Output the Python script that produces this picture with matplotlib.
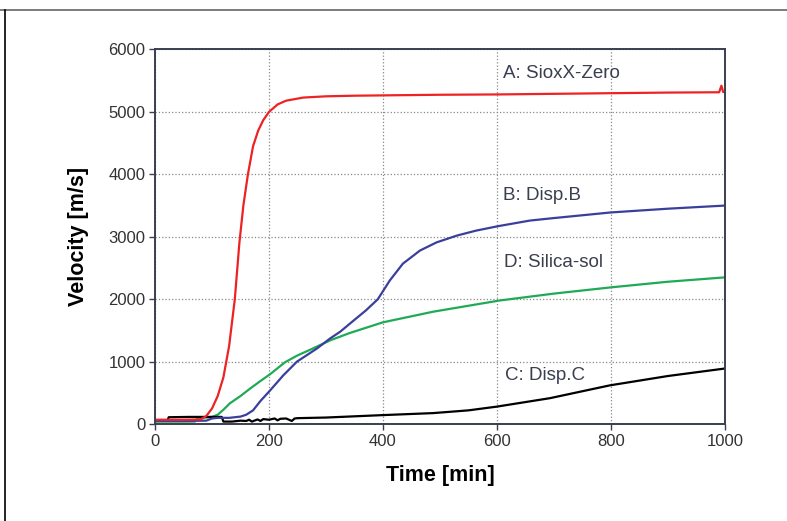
import matplotlib.pyplot as plt
from matplotlib.lines import Line2D

plt.rcParams['font.family'] = ['Liberation Sans', 'DejaVu Sans']

# A: SioxX-Zero
t_a = [0, 20, 50, 80, 90, 100, 110, 120, 130, 140, 148, 155, 163, 172, 181,
       190, 200, 215, 230, 242, 260, 300, 350, 400, 500, 600, 700, 800, 900,
       990, 994, 997, 1000]
v_a = [70, 70, 70, 75, 130, 250, 450, 750, 1250, 2000, 2900, 3500, 4000, 4450,
       4700, 4870, 5000, 5120, 5180, 5200, 5230, 5250, 5260, 5265, 5275, 5280,
       5290, 5300, 5310, 5315, 5420, 5320, 5320]

# B: Disp.B
t_b = [0, 50, 90, 100, 110, 130, 150, 160, 172, 185, 202, 225, 249, 284, 307,
       325, 350, 370, 391, 412, 435, 465, 494, 530, 564, 602, 658, 700, 800,
       900, 1000]
v_b = [50, 50, 55, 90, 100, 100, 120, 150, 220, 370, 540, 780, 1000, 1210,
       1370, 1480, 1670, 1820, 2000, 2300, 2570, 2780, 2910, 3020, 3100, 3170,
       3260, 3300, 3390, 3450, 3500]

# C: Disp.C
t_c = [0, 22, 24, 60, 100, 117, 120, 135, 150, 160, 165, 170, 180, 185, 190,
       200, 210, 215, 220, 230, 240, 245, 250, 300, 400, 488, 550, 600, 693,
       798, 900, 1000]
v_c = [60, 60, 110, 115, 115, 115, 40, 40, 55, 50, 70, 40, 75, 50, 80, 70, 90,
       60, 85, 90, 50, 90, 95, 105, 144, 176, 220, 280, 415, 620, 770, 890]

# D: Silica-sol
t_d = [0, 70, 75, 90, 100, 110, 120, 131, 150, 167, 185, 202, 228, 250, 272,
       307, 342, 400, 488, 605, 700, 800, 900, 1000]
v_d = [40, 40, 100, 105, 115, 150, 230, 330, 450, 570, 690, 800, 990, 1100,
       1190, 1340, 1460, 1630, 1800, 1980, 2090, 2190, 2280, 2350]

labels = ['A: SioxX-Zero', 'B: Disp.B', 'D: Silica-sol', 'C: Disp.C']
label_t = [610, 610, 612, 614]
label_v = [5616, 3664, 2590, 784]

fig = plt.figure(figsize=(7.87, 5.21), dpi=100)
ax = fig.add_axes([0.197, 0.186, 0.724, 0.719])

ax.plot(t_d, v_d, color='#1faa55', lw=1.6)
ax.plot(t_c, v_c, color='black', lw=1.6)
ax.plot(t_b, v_b, color='#3b3f9c', lw=1.6)
ax.plot(t_a, v_a, color='#ee2222', lw=1.6)

for s, x, y in zip(labels, label_t, label_v):
    ax.text(x, y, s, fontsize=13.5, color='#3a3f4f', va='center', ha='left')

ax.set_xlim(0, 1000)
ax.set_ylim(0, 6000)
ax.set_xticks(range(0, 1001, 200))
ax.set_yticks(range(0, 6001, 1000))
ax.grid(True, color='#888888', linestyle=':', linewidth=0.9)
ax.set_axisbelow(True)

for sp in ax.spines.values():
    sp.set_color('#3a3f4f')
    sp.set_linewidth(1.4)
ax.tick_params(direction='out', length=4, width=1, colors='#3a3f4f',
               labelsize=12, labelcolor='#333333', pad=3)

ax.set_xlabel('Time [min]', fontsize=15.5, fontweight='bold', labelpad=12)
ax.set_ylabel('Velocity [m/s]', fontsize=15.5, fontweight='bold', labelpad=14)

# frame lines along the top and left edge of the figure
fig.add_artist(Line2D([0, 1], [1 - 10 / 521] * 2, color='#666666', lw=1.2,
                      transform=fig.transFigure))
fig.add_artist(Line2D([5 / 787] * 2, [0, 1 - 10 / 521], color='black', lw=1.2,
                      transform=fig.transFigure))

fig.savefig('out.png', dpi=100)
